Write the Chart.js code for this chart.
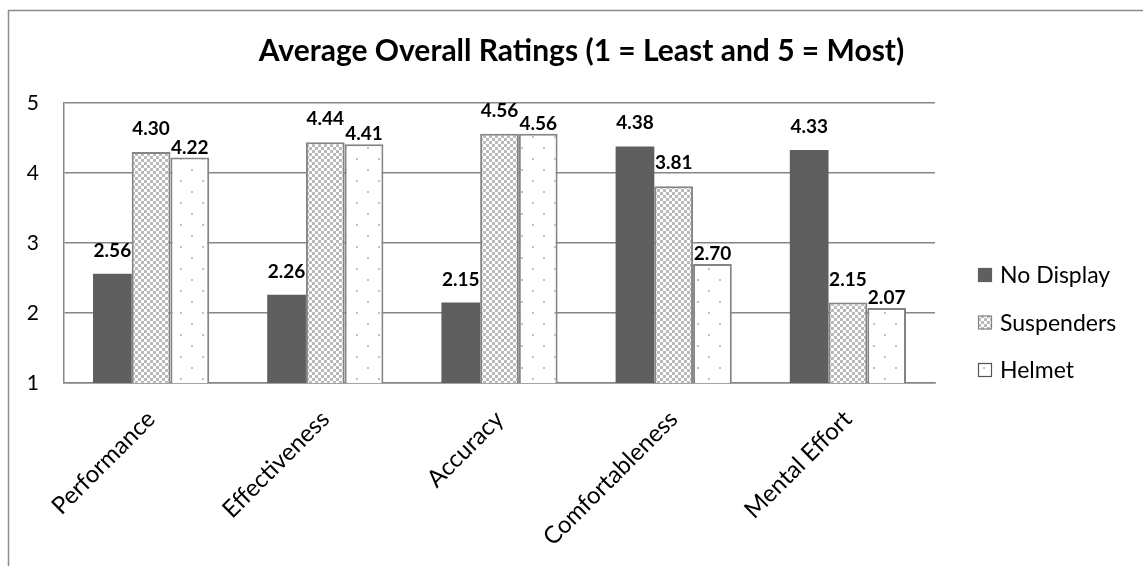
<!DOCTYPE html>
<html>
<head>
<meta charset="utf-8">
<script src="https://cdn.jsdelivr.net/npm/chart.js@4.4.1/dist/chart.umd.min.js"></script>
<style>
  html, body { margin: 0; padding: 0; background: #ffffff; }
  #wrap { position: relative; width: 1143px; height: 566px; }
</style>
</head>
<body>
<div id="wrap"><canvas id="c" width="1143" height="566"></canvas></div>
<script>
// ---- data ----
const categories = ['Performance', 'Effectiveness', 'Accuracy', 'Comfortableness', 'Mental Effort'];
const seriesNames = ['No Display', 'Suspenders', 'Helmet'];
const noDisplay  = [2.56, 2.26, 2.15, 4.38, 4.33];
const suspenders = [4.30, 4.44, 4.56, 3.81, 2.15];
const helmet     = [4.22, 4.41, 4.56, 2.70, 2.07];
const yTicks = [1, 2, 3, 4, 5];
const chartTitle = 'Average Overall Ratings (1 = Least and 5 = Most)';

// ---- look ----
const FONT = "Lato, 'Open Sans', sans-serif";
const LINE = '#868686';

function checkerFill() {
  const t = document.createElement('canvas');
  t.width = 6; t.height = 6;
  const g = t.getContext('2d');
  g.fillStyle = '#ffffff'; g.fillRect(0, 0, 6, 6);
  g.fillStyle = '#bababa';
  g.fillRect(0, 0, 3, 3); g.fillRect(3, 3, 3, 3);
  return g.createPattern(t, 'repeat');
}
function dotFill() {
  const t = document.createElement('canvas');
  t.width = 22; t.height = 22;
  const g = t.getContext('2d');
  g.fillStyle = '#ffffff'; g.fillRect(0, 0, 22, 22);
  g.fillStyle = '#c2c2c2';
  g.fillRect(4, 4, 2, 2); g.fillRect(15, 15, 2, 2);
  return g.createPattern(t, 'repeat');
}

// frame line along the top and left edges
const framePlugin = {
  id: 'frame',
  beforeDraw(chart) {
    const ctx = chart.ctx;
    ctx.save();
    ctx.strokeStyle = '#8c8c8c';
    ctx.lineWidth = 1.5;
    ctx.beginPath();
    ctx.moveTo(8.5, chart.height + 2);
    ctx.lineTo(8.5, 10.5);
    ctx.lineTo(chart.width + 2, 10.5);
    ctx.stroke();
    ctx.restore();
  }
};

// value labels above each bar
const valueLabels = {
  id: 'valueLabels',
  afterDatasetsDraw(chart) {
    const ctx = chart.ctx;
    ctx.save();
    ctx.font = 'bold 19px ' + FONT;
    ctx.fillStyle = '#000000';
    ctx.textAlign = 'center';
    ctx.textBaseline = 'alphabetic';
    chart.data.datasets.forEach((ds, i) => {
      const meta = chart.getDatasetMeta(i);
      meta.data.forEach((bar, j) => {
        ctx.fillText(ds.data[j].toFixed(2), bar.x, bar.y - ds.valueLabelLift);
      });
    });
    ctx.restore();
  }
};

// legend to the right of the plot
const sideLegend = {
  id: 'sideLegend',
  afterDraw(chart) {
    const ctx = chart.ctx;
    const area = chart.chartArea;
    ctx.save();
    ctx.font = '23px ' + FONT;
    ctx.textBaseline = 'middle';
    ctx.textAlign = 'left';
    chart.data.datasets.forEach((ds, i) => {
      const y = area.top + 172 + i * 47.5;
      const x = area.right + 43;
      ctx.fillStyle = ds.backgroundColor;
      ctx.fillRect(x, y - 7, 14, 14);
      ctx.strokeStyle = ds.legendStroke;
      ctx.lineWidth = 1.2;
      ctx.strokeRect(x + 0.5, y - 6.5, 13, 13);
      ctx.fillStyle = '#000000';
      ctx.fillText(ds.label, x + 22, y + 1);
    });
    ctx.restore();
  }
};

const ctx = document.getElementById('c').getContext('2d');
new Chart(ctx, {
  type: 'bar',
  data: {
    labels: categories,
    datasets: [
      { label: seriesNames[0], data: noDisplay, backgroundColor: '#5f5f5f', borderColor: '#5f5f5f',
        borderWidth: 0, legendStroke: '#5f5f5f', valueLabelLift: 17 },
      { label: seriesNames[1], data: suspenders, backgroundColor: checkerFill(), borderColor: '#848484',
        borderWidth: 2, legendStroke: '#848484', valueLabelLift: 17 },
      { label: seriesNames[2], data: helmet, backgroundColor: dotFill(), borderColor: '#848484',
        borderWidth: 2, legendStroke: '#555555', valueLabelLift: 4 }
    ]
  },
  options: {
    responsive: false,
    animation: false,
    devicePixelRatio: 1,
    datasets: { bar: { categoryPercentage: 0.667, barPercentage: 1.0 } },
    layout: { padding: { left: 20, top: 10, right: 0, bottom: 0 } },
    plugins: {
      legend: { display: false },
      tooltip: { enabled: false },
      title: {
        display: true,
        text: chartTitle,
        color: '#000000',
        font: { family: FONT, size: 30, weight: 'bold', lineHeight: 1.2 },
        padding: { top: 23, bottom: 34 }
      }
    },
    scales: {
      x: {
        grid: { display: false, drawTicks: false },
        border: { display: true, color: LINE, width: 1.5 },
        ticks: { color: '#000000', font: { family: FONT, size: 24 }, maxRotation: 45, minRotation: 45, padding: 22 },
        afterFit(s) { s.height = 183; }
      },
      y: {
        min: yTicks[0],
        max: yTicks[yTicks.length - 1],
        afterBuildTicks(s) { s.ticks = yTicks.map(v => ({ value: v })); },
        grid: { color: LINE, lineWidth: 1.5, drawTicks: false },
        border: { display: true, color: LINE, width: 1.5 },
        ticks: { color: '#000000', font: { family: FONT, size: 21 }, padding: 25 },
        afterFit(s) { s.width = 44; }
      },
      legendSpace: {
        type: 'linear',
        position: 'right',
        grid: { display: false, drawTicks: false },
        border: { display: false },
        ticks: { display: false },
        afterFit(s) { s.width = 208; }
      }
    }
  },
  plugins: [framePlugin, valueLabels, sideLegend]
});
</script>
</body>
</html>
